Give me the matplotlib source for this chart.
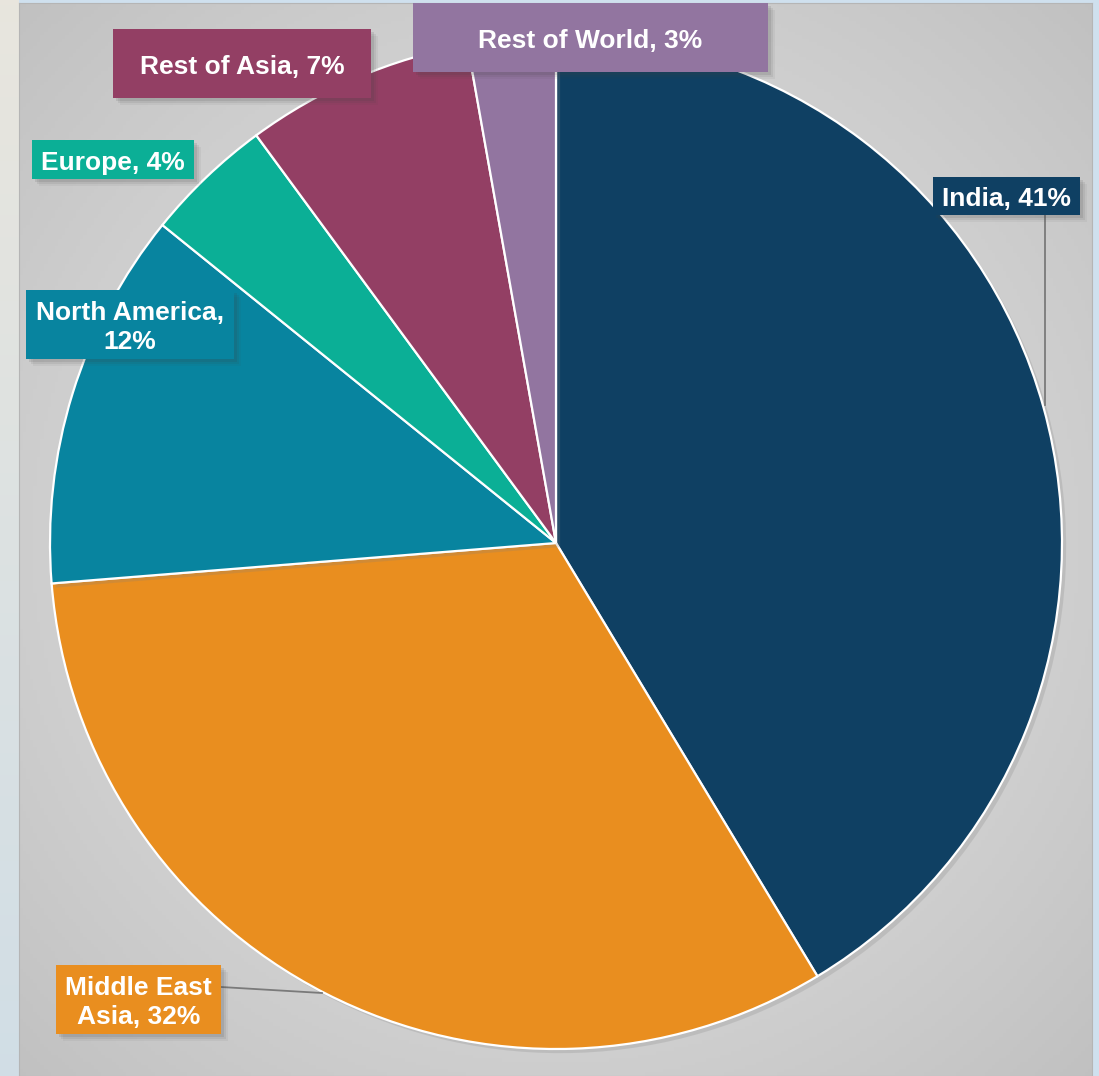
import numpy as np
import matplotlib.pyplot as plt
from matplotlib.patches import Rectangle
import matplotlib.patheffects as pe

plt.rcParams['font.family'] = ['Liberation Sans', 'DejaVu Sans']

regions = ['India', 'Middle East Asia', 'North America', 'Europe', 'Rest of Asia', 'Rest of World']
shares = [41.4, 32.4, 12.1, 4.1, 7.3, 2.8]
label_text = ['India, 41%', 'Middle East\nAsia, 32%', 'North America,\n12%',
              'Europe, 4%', 'Rest of Asia, 7%', 'Rest of World, 3%']
colors = ['#0F4063', '#E98E1F', '#08849F', '#0BAF96', '#933F64', '#9275A0']

W, H = 1099, 1076
fig = plt.figure(figsize=(W / 100, H / 100), dpi=100, facecolor='#cfe0ee')


def px(x, y):
    # reference pixel coords (origin top-left) -> figure fraction
    return x / W, 1 - y / H


# left strip gradient (beige to pale blue)
strip = fig.add_axes([0, 0, 19 / W, 1], zorder=-3)
g = np.linspace(0, 1, 200)[:, None]
top = np.array([0.91, 0.90, 0.87])
bot = np.array([0.82, 0.87, 0.90])
strip.imshow(top + (bot - top) * g[:, :, None], aspect='auto', extent=[0, 1, 0, 1])
strip.axis('off')

# grey panel with radial gradient
x0, y1 = px(19, 3)
x1, y0 = px(1092, 1076)
panel = fig.add_axes([x0, y0, x1 - x0, y1 - y0], zorder=-2)
yy, xx = np.mgrid[0:1:300j, 0:1:300j]
r = np.sqrt((xx - 0.5) ** 2 + (yy - 0.5) ** 2) / 0.71
shade = 0.885 - 0.13 * r ** 1.4
panel.imshow(np.dstack([shade] * 3), aspect='auto', extent=[0, 1, 0, 1])
panel.set_xticks([])
panel.set_yticks([])
for s in panel.spines.values():
    s.set_color('#b5b5b5')

# pie
cx, cy, rad = 556, 543, 506
ax = fig.add_axes([(cx - rad) / W, (H - cy - rad) / H, 2 * rad / W, 2 * rad / H])
wedges, _ = ax.pie(shares, colors=colors, startangle=90, counterclock=False, radius=1,
                   wedgeprops=dict(edgecolor='white', linewidth=1.6))
for w in wedges:
    w.set_path_effects([pe.SimplePatchShadow(offset=(3, -3), shadow_rgbFace='#808080', alpha=0.22),
                        pe.Normal()])
ax.set_xlim(-1, 1)
ax.set_ylim(-1, 1)
ax.set_aspect('equal')
ax.axis('off')

# leader lines (reference pixels)
leaders = {0: [(1045, 215), (1045, 405)], 1: [(221, 987), (322, 993)]}
for i, pts in leaders.items():
    xs = [px(*p)[0] for p in pts]
    ys = [px(*p)[1] for p in pts]
    fig.add_artist(plt.Line2D(xs, ys, color='#7a7a7a', lw=1.3, zorder=2))

# label boxes (reference pixels: left, top, right, bottom)
boxes = [(933, 177, 1080, 215), (56, 965, 221, 1034), (26, 290, 234, 359),
         (32, 140, 194, 179), (113, 29, 371, 98), (413, 3, 768, 72)]
for i, (l, t, rr, b) in enumerate(boxes):
    bx0, by1 = px(l, t)
    bx1, by0 = px(rr, b)
    # soft drop shadow
    for k, a in [(7, 0.06), (5, 0.09), (3, 0.12)]:
        fig.add_artist(Rectangle((bx0 + k / W, by0 - k / H), bx1 - bx0, by1 - by0,
                                 transform=fig.transFigure, facecolor='#404040', alpha=a,
                                 edgecolor='none', zorder=3))
    fig.add_artist(Rectangle((bx0, by0), bx1 - bx0, by1 - by0, transform=fig.transFigure,
                             facecolor=colors[i], edgecolor='none', zorder=4))
    fig.text((bx0 + bx1) / 2, (by0 + by1) / 2 - 3 / H, label_text[i], ha='center', va='center',
             color='white', fontsize=19, fontweight='bold', linespacing=1.3, zorder=5)

fig.savefig('out.png', dpi=100, facecolor=fig.get_facecolor())
